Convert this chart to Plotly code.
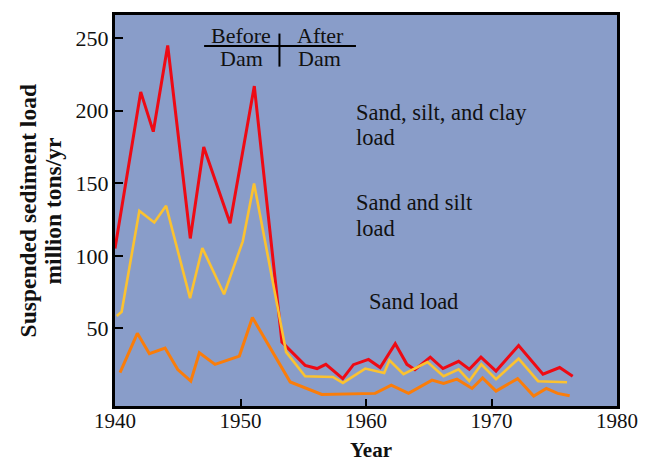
import plotly.graph_objects as go

# Years and suspended sediment load, million tons/yr
clay_years = [1940.0, 1942.05, 1943.05, 1944.2, 1946.0, 1947.07, 1949.17, 1951.1,
              1953.3, 1955.15, 1956.1, 1956.8, 1958.15, 1959.0, 1960.2, 1961.13,
              1962.33, 1963.26, 1963.9, 1965.12, 1966.13, 1967.38, 1968.23, 1969.16,
              1970.36, 1972.16, 1974.1, 1975.43, 1976.47]
clay_load = [105, 213, 185.6, 245, 112, 175, 122.5, 217,
             40.5, 24.5, 22.3, 25.2, 15.4, 25, 28.6, 23,
             39.4, 25.2, 21.5, 30.2, 22.3, 27.3, 21.8, 30.2,
             20.6, 38.2, 18.4, 23, 17]

silt_years = [1940.14, 1940.53, 1941.94, 1943.13, 1944.07, 1945.98, 1946.96, 1948.69,
              1950.18, 1951.08, 1953.64, 1955.15, 1957.36, 1958.16, 1959.94, 1961.45,
              1961.87, 1962.99, 1964.9, 1966.18, 1967.38, 1968.23, 1969.19, 1970.36,
              1972.16, 1973.71, 1976.02]
silt_load = [58.5, 61.4, 131, 123, 134.5, 70.8, 105.4, 73.5,
             110, 149.8, 33.6, 17, 16.5, 12.4, 22.3, 19.3,
             28, 18.4, 26.8, 17, 21.8, 13.8, 25.2, 15,
             29.1, 13.6, 12.9]

sand_years = [1940.4, 1941.78, 1942.74, 1943.99, 1945.0, 1946.04, 1946.72, 1947.97,
              1949.91, 1950.95, 1953.96, 1956.48, 1960.73, 1962.01, 1963.39, 1965.26,
              1966.18, 1967.25, 1968.45, 1969.29, 1970.36, 1972.08, 1973.36, 1974.37,
              1975.27, 1976.23]
sand_load = [19.5, 46.6, 32.5, 36.4, 21.6, 13.6, 33.2, 25.2,
             30.9, 57.5, 13.1, 4.5, 5.2, 10.9, 5.2, 14.3,
             12, 15, 8.6, 15.9, 6.8, 15.4, 3.3, 8.6,
             5.2, 3.6]

x_ticks = [1940, 1950, 1960, 1970, 1980]
y_ticks = [50, 100, 150, 200, 250]

SERIF = "Liberation Serif"
TXT = "#111111"

fig = go.Figure()
fig.add_trace(go.Scatter(x=clay_years, y=clay_load, mode="lines",
                         line=dict(color="#EE0A14", width=3)))
fig.add_trace(go.Scatter(x=silt_years, y=silt_load, mode="lines",
                         line=dict(color="#FBC230", width=2.6)))
fig.add_trace(go.Scatter(x=sand_years, y=sand_load, mode="lines",
                         line=dict(color="#FA7D0A", width=3)))

# the page body adds an 8px offset, so the figure is 8px smaller
fig.update_layout(
    width=643, height=456,
    margin=dict(l=107, r=34, t=4, b=58),
    paper_bgcolor="white",
    plot_bgcolor="#899DC9",
    showlegend=False,
    font=dict(family=SERIF, color=TXT, size=21),
)
fig.update_xaxes(range=[1940, 1980], tickvals=x_ticks, ticktext=[str(t) for t in x_ticks],
                 ticks="inside", ticklen=7, tickwidth=2, tickcolor="black",
                 showline=True, linewidth=3, linecolor="black", mirror=True,
                 showgrid=False, zeroline=False, ticklabelstandoff=-6,
                 tickfont=dict(family=SERIF, size=21, color=TXT))
fig.update_yaxes(range=[-3.5, 266], tickvals=y_ticks, ticktext=[str(t) for t in y_ticks],
                 ticks="inside", ticklen=8, tickwidth=2, tickcolor="black",
                 showline=True, linewidth=3, linecolor="black", mirror=True,
                 showgrid=False, zeroline=False, ticklabelstandoff=-1,
                 tickfont=dict(family=SERIF, size=22, color=TXT))

def note(text, x, y, size=22.5, xanchor="left", bold=False, angle=0):
    fig.add_annotation(text=f"<b>{text}</b>" if bold else text, x=x, y=y,
                       xref="paper", yref="paper", xanchor=xanchor, yanchor="middle",
                       showarrow=False, textangle=angle,
                       font=dict(family=SERIF, size=size, color=TXT))

# series labels
note("Sand, silt, and clay", 0.4766, 0.7513)
note("load", 0.4766, 0.6878)
note("Sand and silt", 0.4766, 0.5203)
note("load", 0.4766, 0.4543)
note("Sand load", 0.5019, 0.2665)

# before / after dam
note("Before", 0.2513, 0.9467, size=22, xanchor="center")
note("After", 0.4098, 0.9467, size=22, xanchor="center")
note("Dam", 0.2513, 0.888, size=22, xanchor="center")
note("Dam", 0.4072, 0.888, size=22, xanchor="center")
fig.add_shape(type="line", xref="paper", yref="paper", x0=0.1775, x1=0.48, y0=0.9206, y1=0.9206,
              line=dict(color="black", width=2))
fig.add_shape(type="line", xref="paper", yref="paper", x0=0.3276, x1=0.3276, y0=0.868, y1=0.9525,
              line=dict(color="black", width=2))

# axis titles
note("Suspended sediment load", -0.1735, 0.5, size=23.5, xanchor="center", bold=True, angle=-90)
note("million tons/yr", -0.1236, 0.5, size=23.5, xanchor="center", bold=True, angle=-90)
note("Year", 0.51, -0.113, size=21, xanchor="center", bold=True)

fig.write_html("out.html")
